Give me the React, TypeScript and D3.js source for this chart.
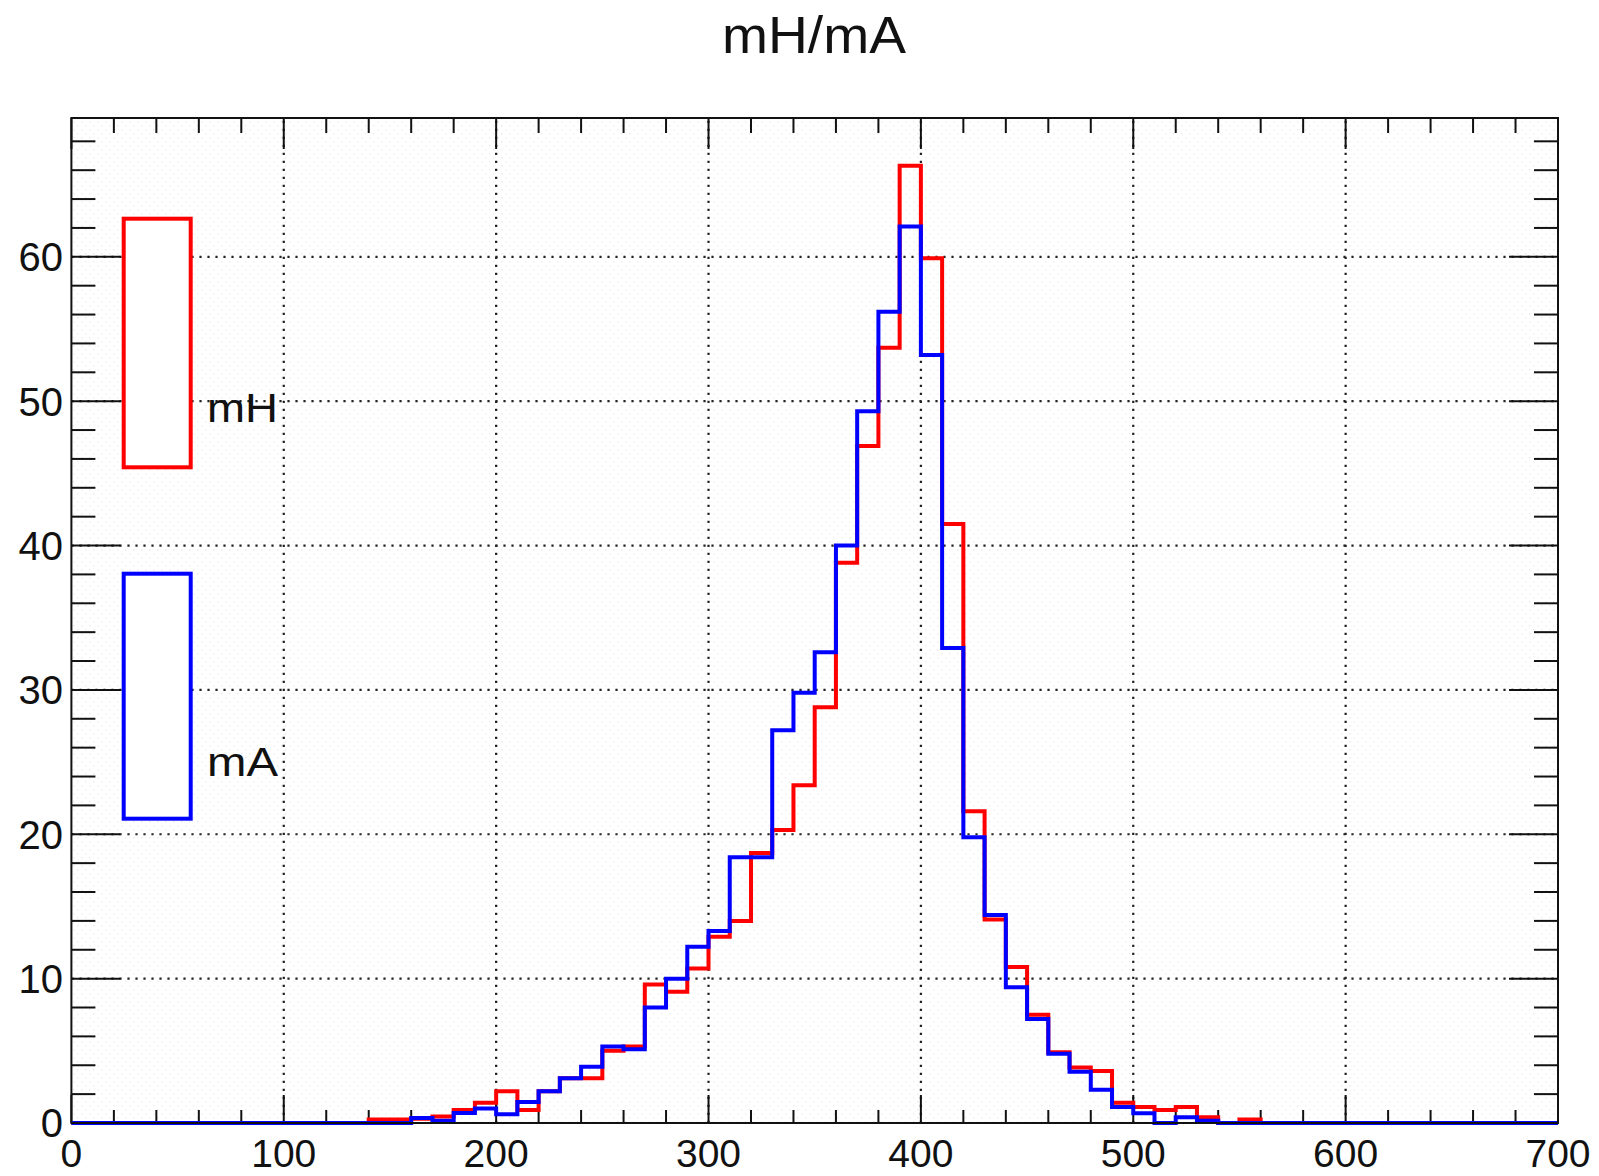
import React, { useRef, useEffect } from "react";
import * as d3 from "d3";

// bin lower edges, 10 wide, 0..690
const binEdges = [
  0, 10, 20, 30, 40, 50, 60, 70, 80, 90,
  100, 110, 120, 130, 140, 150, 160, 170, 180, 190,
  200, 210, 220, 230, 240, 250, 260, 270, 280, 290,
  300, 310, 320, 330, 340, 350, 360, 370, 380, 390,
  400, 410, 420, 430, 440, 450, 460, 470, 480, 490,
  500, 510, 520, 530, 540, 550, 560, 570, 580, 590,
  600, 610, 620, 630, 640, 650, 660, 670, 680, 690,
];
const binWidth = 10;

const mH = [
  0, 0, 0, 0, 0, 0, 0, 0, 0, 0,
  0, 0, 0, 0, 0.25, 0.25, 0.3, 0.45, 0.9, 1.4,
  2.2, 0.9, 2.2, 3.1, 3.1, 5.0, 5.3, 9.6, 9.1, 10.7,
  12.9, 14.0, 18.7, 20.3, 23.4, 28.8, 38.8, 46.9, 53.7, 66.3,
  59.9, 41.5, 21.6, 14.1, 10.8, 7.5, 4.9, 3.85, 3.6, 1.4,
  1.1, 0.9, 1.1, 0.4, 0, 0.25, 0, 0, 0, 0,
  0, 0, 0, 0, 0, 0, 0, 0, 0, 0,
];

const mA = [
  0, 0, 0, 0, 0, 0, 0, 0, 0, 0,
  0, 0, 0, 0, 0, 0, 0.35, 0.15, 0.7, 1.0,
  0.6, 1.45, 2.2, 3.1, 3.9, 5.3, 5.1, 8.0, 10.0, 12.2,
  13.3, 18.4, 18.4, 27.2, 29.8, 32.6, 40.0, 49.3, 56.2, 62.1,
  53.2, 32.9, 19.8, 14.4, 9.4, 7.2, 4.8, 3.55, 2.3, 1.1,
  0.67, 0, 0.39, 0.15, 0, 0, 0, 0, 0, 0,
  0, 0, 0, 0, 0, 0, 0, 0, 0, 0,
];

const xMajorTicks = [0, 100, 200, 300, 400, 500, 600, 700];
const yMajorTicks = [0, 10, 20, 30, 40, 50, 60];
const seriesNames = ["mH", "mA"];
const seriesColors = ["#ff0000", "#0000ff"];
const title = "mH/mA";

const W = 1599;
const H = 1176;
const FONT = "'Liberation Sans', Arial, Helvetica, sans-serif";

const App = () => {
  const ref = useRef<SVGSVGElement>(null);

  useEffect(() => {
    const svg = d3.select(ref.current);
    svg.selectAll("*").remove();

    const left = 71.4, right = 1558, top = 118, bottom = 1123;

    const yMax = d3.max(mH.concat(mA)) * 1.05;
    const x = d3.scaleLinear([0, 700], [left, right]);
    const y = d3.scaleLinear([0, yMax], [bottom, top]);

    // faint stipple background like the original canvas
    const defs = svg.append("defs");
    const pat = defs.append("pattern")
      .attr("id", "stip")
      .attr("width", 8).attr("height", 8)
      .attr("patternUnits", "userSpaceOnUse");
    pat.append("rect").attr("x", 1).attr("y", 1).attr("width", 1.5).attr("height", 1.5).attr("fill", "#eeeeee");
    pat.append("rect").attr("x", 5).attr("y", 5).attr("width", 1.5).attr("height", 1.5).attr("fill", "#eeeeee");

    svg.append("rect").attr("width", W).attr("height", H).attr("fill", "white");
    svg.append("rect")
      .attr("x", left).attr("y", top)
      .attr("width", right - left).attr("height", bottom - top)
      .attr("fill", "url(#stip)");

    // title
    svg.append("text")
      .attr("x", 814).attr("y", 53)
      .attr("text-anchor", "middle")
      .attr("font-family", FONT)
      .attr("font-size", 52)
      .attr("textLength", 184)
      .attr("lengthAdjust", "spacingAndGlyphs")
      .attr("fill", "#111")
      .text(title);

    // grid
    const grid = svg.append("g")
      .attr("stroke", "#222")
      .attr("stroke-width", 2.2)
      .attr("stroke-dasharray", "2.2 5.8")
      .attr("fill", "none");
    xMajorTicks.filter(v => v > 0 && v < 700).forEach(v => {
      grid.append("line").attr("x1", x(v)).attr("x2", x(v)).attr("y1", bottom).attr("y2", top);
    });
    yMajorTicks.filter(v => v > 0).forEach(v => {
      grid.append("line").attr("x1", left).attr("x2", right).attr("y1", y(v)).attr("y2", y(v));
    });

    // ticks
    const ticks = svg.append("g").attr("stroke", "#111").attr("stroke-width", 2);
    const xMinor = d3.range(0, 701, 20);
    xMinor.forEach(v => {
      const major = v % 100 === 0;
      ticks.append("line").attr("x1", x(v)).attr("x2", x(v))
        .attr("y1", bottom).attr("y2", bottom - (major ? 28 : 13));
      ticks.append("line").attr("x1", x(v)).attr("x2", x(v))
        .attr("y1", top).attr("y2", top + (major ? 31 : 15));
    });
    const yMinor = d3.range(0, yMax, 2);
    yMinor.forEach(v => {
      const major = v % 10 === 0;
      ticks.append("line").attr("y1", y(v)).attr("y2", y(v))
        .attr("x1", left).attr("x2", left + (major ? 49 : 24));
      ticks.append("line").attr("y1", y(v)).attr("y2", y(v))
        .attr("x1", right).attr("x2", right - (major ? 49 : 24));
    });

    // tick labels
    svg.append("g").selectAll("text")
      .data(xMajorTicks).enter().append("text")
      .attr("x", d => x(d)).attr("y", 1167)
      .attr("text-anchor", "middle")
      .attr("font-family", FONT).attr("font-size", 39).attr("fill", "#111")
      .text(d => d);
    svg.append("g").selectAll("text")
      .data(yMajorTicks).enter().append("text")
      .attr("x", 63).attr("y", d => y(d)).attr("dy", "0.36em")
      .attr("text-anchor", "end")
      .attr("font-family", FONT).attr("font-size", 40).attr("fill", "#111")
      .text(d => d);

    // histograms
    const line = d3.line<[number, number]>().x(d => x(d[0])).y(d => y(d[1]));
    [mH, mA].forEach((vals, k) => {
      const pts: [number, number][] = [];
      binEdges.forEach((lo, i) => {
        pts.push([lo, vals[i]]);
        pts.push([lo + binWidth, vals[i]]);
      });
      svg.append("path")
        .attr("d", line(pts))
        .attr("fill", "none")
        .attr("stroke", seriesColors[k])
        .attr("stroke-width", 4)
        .attr("stroke-linejoin", "miter");
    });

    // frame
    svg.append("rect")
      .attr("x", left).attr("y", top)
      .attr("width", right - left).attr("height", bottom - top)
      .attr("fill", "none").attr("stroke", "#111").attr("stroke-width", 2);

    // legend
    const legendBoxes = [[218.7, 467.3, 421.7], [573.7, 818.7, 776]];
    seriesNames.forEach((name, k) => {
      const [y0, y1, ty] = legendBoxes[k];
      svg.append("rect")
        .attr("x", 123.7).attr("y", y0)
        .attr("width", 67).attr("height", y1 - y0)
        .attr("fill", "white")
        .attr("stroke", seriesColors[k]).attr("stroke-width", 4);
      svg.append("text")
        .attr("x", 207).attr("y", ty)
        .attr("font-family", FONT).attr("font-size", 41).attr("fill", "#111")
        .attr("textLength", 71)
        .attr("lengthAdjust", "spacingAndGlyphs")
        .text(name);
    });
  }, []);

  return (
    <svg ref={ref} width={W} height={H}
      style={{ position: "absolute", left: 0, top: 0 }}>
    </svg>
  );
};

export default App;
